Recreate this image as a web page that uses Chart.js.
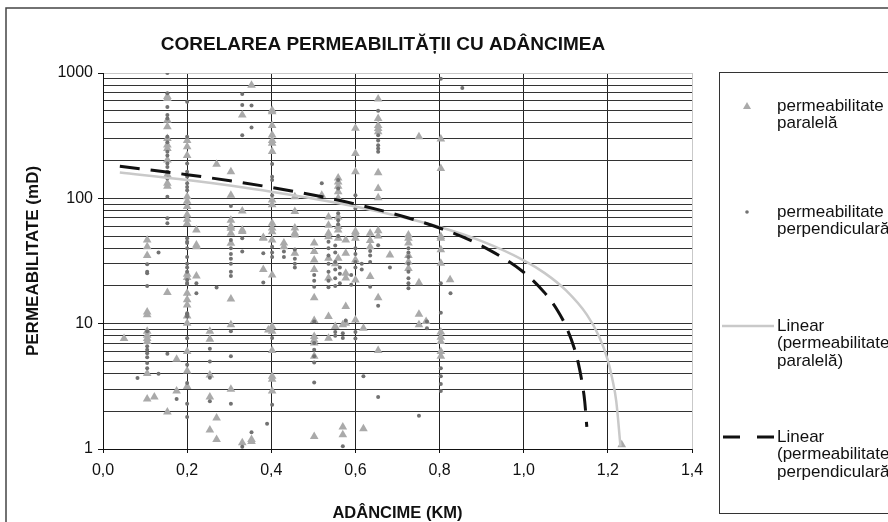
<!DOCTYPE html>
<html>
<head>
<meta charset="utf-8">
<script src="https://cdn.jsdelivr.net/npm/chart.js@4.4.1/dist/chart.umd.min.js"></script>
<style>
html, body { margin: 0; padding: 0; background: #fff; }
</style>
</head>
<body>
<canvas id="grafic" width="888" height="522"></canvas>
<script>
/* ---------------- DATE ---------------- */

const titlu = "CORELAREA PERMEABILITĂȚII CU ADÂNCIMEA";
const titluX = "ADÂNCIME (KM)";
const titluY = "PERMEABILITATE (mD)";

// axe
const xTickValues = [0, 0.2, 0.4, 0.6, 0.8, 1.0, 1.2, 1.4];
const yGridValues = [1, 2, 3, 4, 5, 6, 7, 8, 9, 10, 20, 30, 40, 50, 60, 70, 80, 90,
	100, 200, 300, 400, 500, 600, 700, 800, 900, 1000];
const yLabelValues = [1, 10, 100, 1000];

// permeabilitate paralela (triunghiuri) - adancimi si valorile citite pe fiecare coloana
const paralelaAdancime = [0.05, 0.105, 0.122, 0.153, 0.175, 0.2, 0.222, 0.254, 0.27, 0.304,
	0.331, 0.353, 0.381, 0.393, 0.402, 0.43, 0.456, 0.502, 0.52, 0.536, 0.552, 0.559, 0.57,
	0.577, 0.6, 0.619, 0.635, 0.654, 0.682, 0.726, 0.751, 0.768, 0.803, 0.825, 1.233];
const paralelaPerm = [
	[7.6],
	[46.5, 41, 35, 12.4, 11.8, 8.7, 8.1, 7.6, 7.2, 4.0, 2.5],
	[2.6],
	[650, 625, 420, 373, 300, 267, 250, 202, 154, 132, 125, 17.7, 1.97],
	[5.2, 2.9],
	[290, 258, 220, 103, 95, 86, 74, 68, 63, 24.8, 23.4, 17.5, 15.5, 14.1, 11.5, 10.1, 6.0, 4.2, 3.15],
	[56, 42.5, 41, 24],
	[8.7, 7.5, 3.9, 2.6, 1.42],
	[187, 1.77, 1.19],
	[163, 106, 67, 60, 57.6, 52.7, 43.9, 15.7, 9.8, 3.0],
	[462, 79.4, 56, 54.3, 1.12],
	[800, 1.15, 1.19],
	[48.7, 27, 48],
	[8.9],
	[505, 490, 382, 320, 290, 275, 236, 97, 89, 63.3, 58, 54, 46.5, 24.5, 9.5, 8.7, 6.1, 3.8, 3.6, 2.9],
	[44, 41],
	[103, 78.5, 58, 53, 51, 36.5],
	[44, 37.6, 32.2, 27, 16.1, 10.6, 7.9, 7.4, 7.0, 5.5, 1.26],
	[106],
	[71, 61, 52.7, 49.4, 33.2, 23.1, 11.4, 7.65],
	[9.5, 30],
	[145, 135, 125, 113, 100, 71, 59.6, 56, 48, 33.2],
	[9.8, 1.5, 1.3],
	[46.5, 36.5, 25.3, 23.1, 13.7, 10.1],
	[362, 228, 163, 54.3, 52.7, 48, 32.2, 22.3, 10.7],
	[9.2, 1.45],
	[52.7, 46, 41, 23.8],
	[620, 434, 382, 360, 340, 160, 120, 101, 55, 50, 16.1, 6.1],
	[35.3],
	[51, 48, 44, 35, 31, 27.6],
	[310, 21.2, 11.9, 9.8],
	[10.4],
	[298, 173, 49.5, 48, 38.8, 30.4, 8.6, 7.8, 7.2, 6.0, 5.5],
	[22.4],
	[1.08]
];

// permeabilitate perpendiculara (puncte)
const perpAdancime = [0.082, 0.105, 0.132, 0.153, 0.175, 0.2, 0.222, 0.254, 0.27, 0.304,
	0.331, 0.353, 0.381, 0.39, 0.402, 0.43, 0.456, 0.502, 0.52, 0.536, 0.552, 0.559, 0.563,
	0.57, 0.577, 0.59, 0.6, 0.615, 0.619, 0.635, 0.654, 0.682, 0.726, 0.751, 0.77, 0.803,
	0.826, 0.854];
const perpPerm = [
	[3.68],
	[29.8, 26, 25.3, 20, 8.7, 6.6, 6.2, 5.8, 5.4, 4.85, 4.4],
	[36.9, 3.98],
	[1000, 690, 535, 462, 434, 310, 280, 235, 220, 190, 178, 163, 144, 103, 69.3, 63.3, 5.75],
	[2.5],
	[590, 310, 190, 163, 149, 132, 123, 116, 48, 45, 44, 40, 34, 30, 28, 26, 22.3, 21.1, 20.7,
		12.1, 11.9, 11.4, 7.65, 4.7, 3.36, 2.3, 1.8],
	[17.5, 21],
	[6.3, 5.0, 3.7, 2.4],
	[19.4],
	[87, 46.5, 40, 36, 33, 30, 26, 24, 8.7, 5.5, 2.3],
	[680, 555, 318, 48, 37.6, 1.04],
	[550, 368, 1.36],
	[36.5, 21.3],
	[1.59],
	[188, 149, 140, 106, 41, 37, 34, 7.7, 2.25],
	[37.6, 34],
	[39, 33, 30, 28],
	[24.5, 22, 19.7, 10.4, 7.0, 6.2, 5.5, 4.9, 3.4],
	[132],
	[45, 40, 35, 30, 26, 22, 19.5],
	[42, 37, 31, 27, 23, 20, 8.6, 8.0],
	[140, 120, 76, 67, 62, 50],
	[28, 25, 21],
	[8.4, 7.7, 1.05],
	[10.6],
	[24.5, 20.4],
	[106, 83, 40, 36, 31, 28, 8.6, 7.6],
	[30, 27],
	[3.8],
	[38, 35, 31, 19.7],
	[500, 318, 290, 265, 250, 235, 42.3, 13.9, 2.6],
	[28],
	[40, 37, 34, 30, 26, 23, 21, 19.2],
	[1.84],
	[10.4, 9.2],
	[900, 21, 12.2, 4.4, 3.8, 3.3, 2.9],
	[17.5],
	[760]
];

// liniile de tendinta
const trendParalelaX = [0.04, 0.2, 0.4, 0.6, 0.8, 0.9, 1.0, 1.05, 1.1, 1.15, 1.18, 1.2, 1.21, 1.22, 1.23];
const trendParalelaY = [161, 140, 113, 86, 59, 45.5, 32, 25.3, 18.5, 11.8, 7.8, 5.1, 3.7, 2.4, 1.05];
const trendPerpX = [0.04, 0.2, 0.4, 0.6, 0.8, 0.9, 1.0, 1.05, 1.08, 1.1, 1.12, 1.13, 1.14, 1.145, 1.15];
const trendPerpY = [180, 154.5, 122.3, 90, 58, 41.8, 25.7, 17.6, 12.8, 9.6, 6.4, 4.8, 3.2, 2.4, 1.5];

const etichete = [
	["permeabilitate", "paralelă"],
	["permeabilitate", "perpendiculară"],
	["Linear", "(permeabilitate", "paralelă)"],
	["Linear", "(permeabilitate", "perpendiculară)"]
];

/* ---------------- GRAFIC ---------------- */

const FONT = "'Liberation Sans', Arial, sans-serif";
const CULOARE_TRIUNGHI = "#aaaaaa";
const CULOARE_PUNCT = "#727272";
const CULOARE_GRI = "#c9c9c9";

function coloane(adancimi, valori) {
	let pts = [];
	adancimi.forEach((x, i) => valori[i].forEach(y => pts.push({ x: x, y: y })));
	return pts;
}

function perechi(xs, ys) {
	return xs.map((x, i) => ({ x: x, y: ys[i] }));
}

// titlu, legenda si chenar
const decor = {
	id: "decor",
	afterDraw(chart) {
		const c = chart.ctx;
		c.save();

		c.strokeStyle = "#444";
		c.lineWidth = 1.5;
		c.beginPath();
		c.moveTo(6, 522);
		c.lineTo(6, 8);
		c.lineTo(888, 8);
		c.stroke();

		c.fillStyle = "#111";
		c.font = "bold 19px " + FONT;
		c.textAlign = "center";
		c.textBaseline = "middle";
		c.fillText(titlu, 383, 45);

		// legenda
		c.strokeStyle = "#333";
		c.lineWidth = 1;
		c.strokeRect(719.5, 72.5, 200, 441);

		const yItem = [106, 212, 326, 437];
		c.font = "17px " + FONT;
		c.textAlign = "left";
		etichete.forEach((linii, i) => {
			linii.forEach((t, k) => c.fillText(t, 777, yItem[i] + k * 17.5));
		});

		// triunghi
		c.fillStyle = CULOARE_TRIUNGHI;
		c.beginPath();
		c.moveTo(747, yItem[0] - 4);
		c.lineTo(751, yItem[0] + 3);
		c.lineTo(743, yItem[0] + 3);
		c.closePath();
		c.fill();
		// punct
		c.fillStyle = CULOARE_PUNCT;
		c.beginPath();
		c.arc(747, yItem[1], 1.8, 0, Math.PI * 2);
		c.fill();
		// linii
		c.strokeStyle = CULOARE_GRI;
		c.lineWidth = 2.5;
		c.beginPath();
		c.moveTo(722, yItem[2]);
		c.lineTo(774, yItem[2]);
		c.stroke();
		c.strokeStyle = "#111";
		c.lineWidth = 3;
		c.setLineDash([17, 17]);
		c.beginPath();
		c.moveTo(723, yItem[3]);
		c.lineTo(774, yItem[3]);
		c.stroke();

		c.restore();
	}
};

const ctx = document.getElementById("grafic").getContext("2d");

let grafic = new Chart(ctx, {
	type: "scatter",
	data: {
		datasets: [
			{
				label: "permeabilitate paralelă",
				data: coloane(paralelaAdancime, paralelaPerm),
				pointStyle: "triangle",
				pointRadius: 5,
				backgroundColor: CULOARE_TRIUNGHI,
				borderColor: CULOARE_TRIUNGHI,
				borderWidth: 0,
				order: 4,
			},
			{
				label: "permeabilitate perpendiculară",
				data: coloane(perpAdancime, perpPerm),
				pointStyle: "circle",
				pointRadius: 2,
				backgroundColor: CULOARE_PUNCT,
				borderColor: CULOARE_PUNCT,
				borderWidth: 0,
				order: 3,
			},
			{
				label: "Linear (permeabilitate paralelă)",
				type: "line",
				data: perechi(trendParalelaX, trendParalelaY),
				borderColor: CULOARE_GRI,
				borderWidth: 2.5,
				pointRadius: 0,
				cubicInterpolationMode: "monotone",
				order: 2,
			},
			{
				label: "Linear (permeabilitate perpendiculară)",
				type: "line",
				data: perechi(trendPerpX, trendPerpY),
				borderColor: "#111",
				borderWidth: 3,
				borderDash: [20, 11],
				pointRadius: 0,
				cubicInterpolationMode: "monotone",
				order: 1,
			}
		],
	},
	options: {
		responsive: false,
		animation: false,
		devicePixelRatio: 1,
		layout: { padding: { left: 8, top: 73, right: 196, bottom: 0 } },
		plugins: {
			legend: { display: false },
			title: { display: false },
			tooltip: { enabled: false },
		},
		scales: {
			x: {
				type: "linear",
				min: 0,
				max: 1.4,
				afterBuildTicks: s => { s.ticks = xTickValues.map(v => ({ value: v })); },
				afterFit: s => { s.height = 73; },
				ticks: {
					autoSkip: false,
					maxRotation: 0,
					padding: 8,
					color: "#111",
					font: { family: FONT, size: 16 },
					callback: v => v.toFixed(1).replace(".", ","),
				},
				grid: {
					color: c => (c.tick && c.tick.value === 1.4) ? CULOARE_GRI : "#222",
					tickColor: "#111",
					tickLength: 4,
				},
				border: { color: "#111", width: 1 },
				title: {
					display: true,
					text: titluX,
					color: "#111",
					font: { family: FONT, size: 16.5, weight: "bold", lineHeight: 1 },
					padding: { top: 0, bottom: 0 },
				},
			},
			y: {
				type: "logarithmic",
				min: 1,
				max: 1000,
				afterBuildTicks: s => { s.ticks = yGridValues.map(v => ({ value: v })); },
				afterFit: s => { s.width = 95; },
				ticks: {
					autoSkip: false,
					padding: 5,
					color: "#111",
					font: { family: FONT, size: 16 },
					callback: v => yLabelValues.includes(v) ? String(v) : "",
				},
				grid: {
					color: c => (c.tick && c.tick.value === 1000) ? CULOARE_GRI : "#333",
					tickColor: c => (c.tick && yLabelValues.includes(c.tick.value)) ? "#111" : "rgba(0,0,0,0)",
					tickLength: 5,
				},
				border: { color: "#111", width: 1 },
				title: {
					display: true,
					text: titluY,
					color: "#111",
					font: { family: FONT, size: 17, weight: "bold" },
					padding: { top: 15, bottom: 0 },
				},
			},
		},
	},
	plugins: [decor],
});
</script>
</body>
</html>
